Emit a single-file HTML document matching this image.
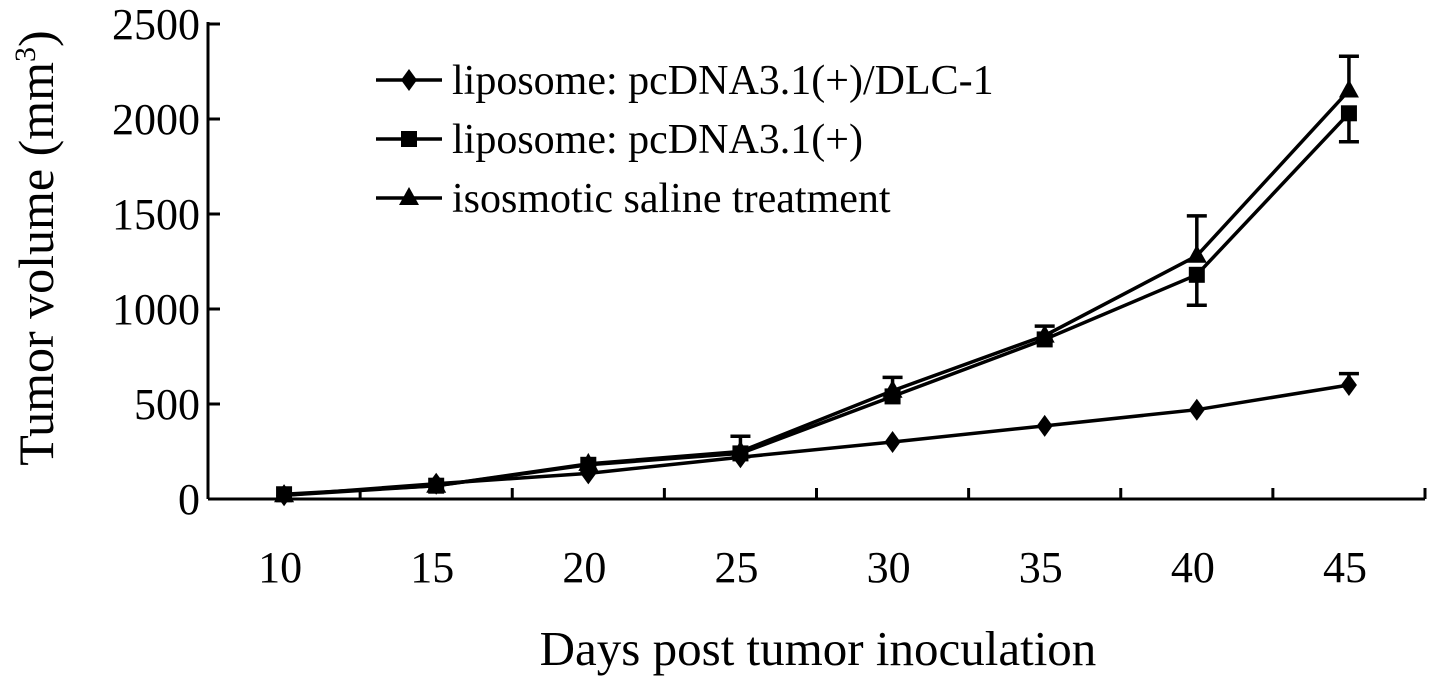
<!DOCTYPE html>
<html><head><meta charset="utf-8"><style>
body{margin:0;background:#fff;}
svg{display:block;font-family:"Liberation Serif",serif;}
</style></head><body>
<svg id="chart" width="1441" height="685" viewBox="0 0 1441 685">
<g id="axes"></g><g id="series"></g><g id="legend"></g>
</svg>
<script>
const categories=[10,15,20,25,30,35,40,45];
const yTicks=[0,500,1000,1500,2000,2500];
const dlcValues=[20,80,135,220,300,385,470,600];
const dlcErrUp=[0,0,0,0,0,0,0,660];
const pcdnaValues=[25,70,180,240,540,840,1180,2030];
const pcdnaErrDown=[0,0,0,0,0,0,1020,1880];
const salineValues=[20,70,185,250,570,860,1280,2150];
const salineErrUp=[0,0,0,330,640,910,1490,2330];
const seriesNames=["liposome: pcDNA3.1(+)/DLC-1","liposome: pcDNA3.1(+)","isosmotic saline treatment"];

const NS="http://www.w3.org/2000/svg";
const x0=208,x1=1425,yBase=499,yTop=24,yMax=2500;
const step=(x1-x0)/categories.length;
const xs=i=>x0+step*(i+0.5);
const ys=v=>yBase-(v/yMax)*(yBase-yTop);
function mk(tag,attrs,parent){const e=document.createElementNS(NS,tag);for(const k in attrs)e.setAttribute(k,attrs[k]);parent.appendChild(e);return e;}
const axes=document.getElementById('axes'),ser=document.getElementById('series'),leg=document.getElementById('legend');

let e=mk('line',{x1:x0,y1:yTop-2,x2:x0,y2:yBase,stroke:'#000','stroke-width':3},axes);


e=mk('line',{x1:x0,y1:yBase,x2:x1,y2:yBase,stroke:'#000','stroke-width':3},axes);


yTicks.forEach(t=>{
  mk('line',{x1:x0,y1:ys(t),x2:x0+12,y2:ys(t),stroke:'#000','stroke-width':3},axes);
  const tx=mk('text',{x:x0-8,y:ys(t)+15,'text-anchor':'end','font-size':44},axes);
  tx.textContent=t;
  
  
});
categories.forEach((c,i)=>{
  const tx=x0+step*(i+1);
  mk('line',{x1:tx,y1:yBase,x2:tx,y2:yBase-11,stroke:'#000','stroke-width':3},axes);
  const t=mk('text',{x:xs(i)-4,y:yBase+83,'text-anchor':'middle','font-size':44},axes);
  t.textContent=c;
  
  
});
e=mk('text',{x:818,y:665,'text-anchor':'middle','font-size':49},axes);
e.textContent='Days post tumor inoculation';


e=mk('text',{transform:'translate(53,248) rotate(-90)','text-anchor':'middle','font-size':50},axes);
e.innerHTML='Tumor volume (mm<tspan dy="-18" font-size="30">3</tspan><tspan dy="18">)</tspan>';



function marker(type,x,y,p){
  if(type==='diamond') return mk('path',{d:`M${x} ${y-11}L${x+8} ${y}L${x} ${y+11}L${x-8} ${y}Z`,fill:'#000'},p);
  if(type==='square') return mk('rect',{x:x-8,y:y-8,width:16,height:16,fill:'#000'},p);
  return mk('path',{d:`M${x} ${y-11}L${x+10} ${y+7}L${x-10} ${y+7}Z`,fill:'#000'},p);
}
function errbar(x,yv,ye,p){
  mk('line',{x1:x,y1:ys(yv),x2:x,y2:ys(ye),stroke:'#000','stroke-width':3.5},p);
  mk('line',{x1:x-10,y1:ys(ye),x2:x+10,y2:ys(ye),stroke:'#000','stroke-width':3.5},p);
}
function drawSeries(vals,errs,type,name){
  const g=mk('g',{},ser);
  
  
  vals.forEach((v,i)=>{if(errs[i])errbar(xs(i),v,errs[i],g);});
  const l=mk('polyline',{points:vals.map((v,i)=>xs(i)+','+ys(v)).join(' '),fill:'none',stroke:'#000','stroke-width':3.5},g);
  
  
  vals.forEach((v,i)=>{const m=marker(type,xs(i),ys(v),g);
    
    });
}
drawSeries(salineValues,salineErrUp,'triangle','saline-series');
drawSeries(pcdnaValues,pcdnaErrDown,'square','pcdna-series');
drawSeries(dlcValues,dlcErrUp,'diamond','dlc1-series');

const types=['diamond','square','triangle'];
seriesNames.forEach((n,i)=>{
  const y=80+i*59;
  const g=mk('g',{},leg);
  
  
  mk('line',{x1:376,y1:y,x2:442,y2:y,stroke:'#000','stroke-width':3.5},g);
  marker(types[i],409,y,g);
  const t=mk('text',{x:452,y:y+14,'font-size':42},g);
  t.textContent=n;
});
</script>
</body></html>
